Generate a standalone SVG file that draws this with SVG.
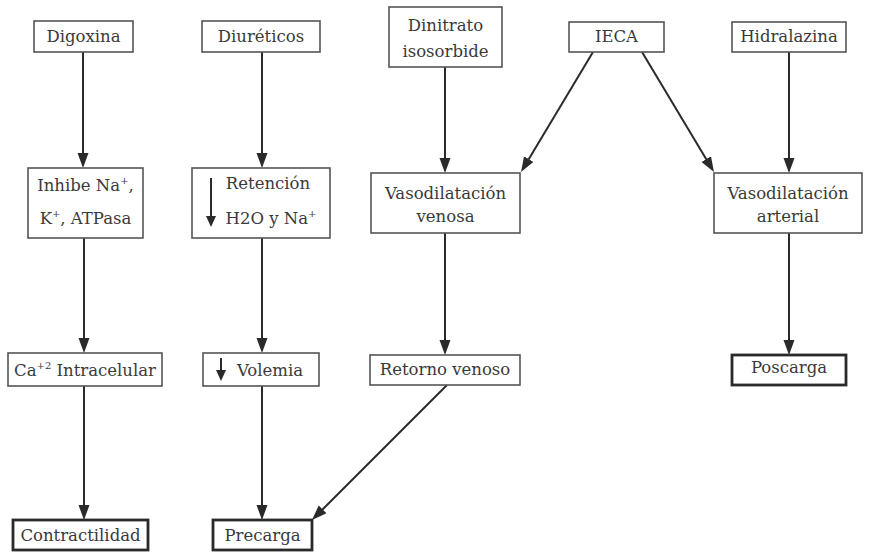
<svg xmlns="http://www.w3.org/2000/svg" width="877" height="552" viewBox="0 0 877 552">
  <defs>
    <marker id="head" markerUnits="userSpaceOnUse" markerWidth="16" markerHeight="12" refX="10" refY="5.5" orient="auto">
      <path d="M0,0 L15,5.5 L0,11 z" fill="#2a2a2a"/>
    </marker>
  </defs>
  <style>
    .box { fill: #fff; stroke: #555; stroke-width: 1.6; }
    .end { fill: #fff; stroke: #2a2a2a; stroke-width: 2.8; }
    text { font-family: "DejaVu Serif", "Liberation Serif", serif; font-size: 16.5px; fill: #3a3a3a; text-anchor: middle; }
    .sup { font-size: 10px; }
    .edge { stroke: #2a2a2a; stroke-width: 2; fill: none; marker-end: url(#head); }
    .tick { stroke: #2a2a2a; stroke-width: 2; }
    .tickhead { fill: #2a2a2a; }
  </style>
  <rect width="877" height="552" fill="#fff"/>

  <g id="connectors">
    <line class="edge" x1="83" y1="52" x2="83" y2="163"/>
    <line class="edge" x1="262" y1="52" x2="262" y2="163"/>
    <line class="edge" x1="445" y1="67" x2="445" y2="168"/>
    <line class="edge" x1="789" y1="52" x2="789" y2="168"/>
    <line class="edge" x1="593" y1="52" x2="523.6" y2="167.7"/>
    <line class="edge" x1="642" y1="52" x2="711.4" y2="167.7"/>
    <line class="edge" x1="84" y1="238" x2="84" y2="348"/>
    <line class="edge" x1="262" y1="238" x2="262" y2="348"/>
    <line class="edge" x1="445" y1="233" x2="445" y2="350"/>
    <line class="edge" x1="789" y1="233" x2="789" y2="350"/>
    <line class="edge" x1="84" y1="386" x2="84" y2="515"/>
    <line class="edge" x1="262" y1="386" x2="262" y2="515"/>
    <line class="edge" x1="447" y1="385" x2="315.5" y2="516.5"/>
  </g>

  <g id="digoxina">
    <rect class="box" x="34" y="21" width="99" height="31"/>
    <text x="83.5" y="42">Digoxina</text>
  </g>
  <g id="diureticos">
    <rect class="box" x="202" y="21" width="118" height="31"/>
    <text x="261" y="42">Diuréticos</text>
  </g>
  <g id="dinitrato">
    <rect class="box" x="389" y="7" width="113" height="60"/>
    <text x="445.5" y="31">Dinitrato</text>
    <text x="445.5" y="57">isosorbide</text>
  </g>
  <g id="ieca">
    <rect class="box" x="569" y="22" width="95" height="30"/>
    <text x="616.5" y="42">IECA</text>
  </g>
  <g id="hidralazina">
    <rect class="box" x="732" y="22" width="114" height="30"/>
    <text x="789" y="42">Hidralazina</text>
  </g>

  <g id="inhibe">
    <rect class="box" x="28" y="168" width="115" height="70"/>
    <text x="85.5" y="191">Inhibe Na<tspan class="sup" dy="-7">+</tspan><tspan dy="7">,</tspan></text>
    <text x="85.5" y="224">K<tspan class="sup" dy="-7">+</tspan><tspan dy="7">, ATPasa</tspan></text>
  </g>
  <g id="retencion">
    <rect class="box" x="192" y="168" width="138" height="70"/>
    <line class="tick" x1="211" y1="178" x2="211" y2="218"/>
    <path class="tickhead" d="M206,216 L216,216 L211,227 z"/>
    <text x="268" y="189">Retención</text>
    <text x="271" y="224">H2O y Na<tspan class="sup" dy="-7">+</tspan></text>
  </g>
  <g id="vasodilatacion-venosa">
    <rect class="box" x="371" y="173" width="149" height="60"/>
    <text x="445.5" y="199">Vasodilatación</text>
    <text x="445.5" y="222">venosa</text>
  </g>
  <g id="vasodilatacion-arterial">
    <rect class="box" x="714" y="173" width="148" height="60"/>
    <text x="788" y="199">Vasodilatación</text>
    <text x="788" y="222">arterial</text>
  </g>

  <g id="calcio">
    <rect class="box" x="8" y="353" width="154" height="33"/>
    <text x="85" y="376">Ca<tspan class="sup" dy="-7">+2</tspan><tspan dy="7"> Intracelular</tspan></text>
  </g>
  <g id="volemia">
    <rect class="box" x="203" y="353" width="116" height="33"/>
    <line class="tick" x1="221" y1="358" x2="221" y2="372"/>
    <path class="tickhead" d="M216,370 L226,370 L221,381 z"/>
    <text x="270" y="376">Volemia</text>
  </g>
  <g id="retorno-venoso">
    <rect class="box" x="370" y="355" width="150" height="30"/>
    <text x="445" y="375">Retorno venoso</text>
  </g>
  <g id="poscarga">
    <rect class="end" x="732" y="355" width="114" height="30"/>
    <text x="789" y="373">Poscarga</text>
  </g>

  <g id="contractilidad">
    <rect class="end" x="13" y="520" width="135" height="30"/>
    <text x="80.5" y="541">Contractilidad</text>
  </g>
  <g id="precarga">
    <rect class="end" x="213" y="520" width="99" height="30"/>
    <text x="262.5" y="541">Precarga</text>
  </g>
</svg>
